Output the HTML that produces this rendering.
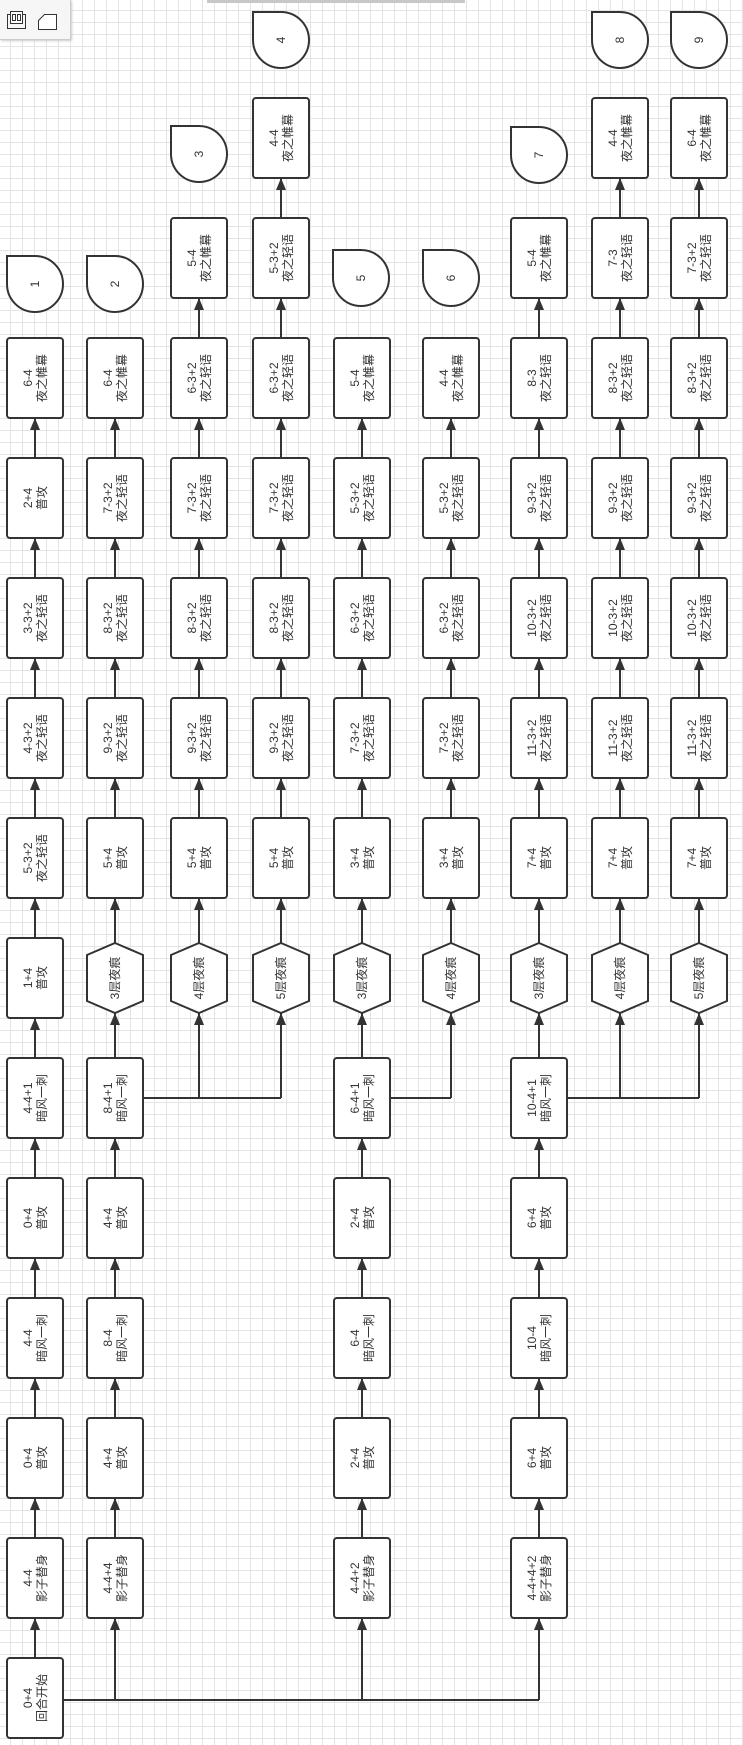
<!DOCTYPE html>
<html><head><meta charset="utf-8"><style>
html,body{margin:0;padding:0;}
body{width:743px;height:1745px;overflow:hidden;background-color:#fff;
background-image:linear-gradient(#e4e4e4 1px,transparent 1px),linear-gradient(90deg,#e4e4e4 1px,transparent 1px);
background-size:12px 12px;background-position:-2px -2px;position:relative;}
svg{position:absolute;left:0;top:0;}
text{font-family:"Liberation Sans","Noto Sans CJK SC",sans-serif;font-size:12px;fill:#333;text-anchor:middle;}
.b{fill:#fff;stroke:#333;stroke-width:2;}
.l{fill:none;stroke:#333;stroke-width:2;}
.tb{position:absolute;left:0;top:0;width:70px;height:39px;background:#f6f6f6;border-right:1px solid #ccc;border-bottom:1px solid #ccc;box-shadow:1px 1px 2px #ccc;}
.bar{position:absolute;left:207px;top:0;width:258px;height:3px;background:#c8c8c8;}
</style></head><body>
<div class="bar"></div>
<svg width="743" height="1745" viewBox="0 0 743 1745">
<path class="l" d="M35 1658V418 M115 1700V418 M199 1098V298 M281 1098V178 M362 1700V418 M451 1098V418 M539 1700V298 M620 1098V178 M699 1098V178 M63 1700H539 M143 1098H281 M390 1098H451 M567 1098H699"/>
<g class="b">
<!-- c1 -->
<rect x="7" y="1658" width="56" height="80" rx="3"/><rect x="7" y="1538" width="56" height="80" rx="3"/><rect x="7" y="1418" width="56" height="80" rx="3"/><rect x="7" y="1298" width="56" height="80" rx="3"/><rect x="7" y="1178" width="56" height="80" rx="3"/><rect x="7" y="1058" width="56" height="80" rx="3"/><rect x="7" y="938" width="56" height="80" rx="3"/><rect x="7" y="818" width="56" height="80" rx="3"/><rect x="7" y="698" width="56" height="80" rx="3"/><rect x="7" y="578" width="56" height="80" rx="3"/><rect x="7" y="458" width="56" height="80" rx="3"/><rect x="7" y="338" width="56" height="80" rx="3"/>
<!-- c2 -->
<rect x="87" y="1538" width="56" height="80" rx="3"/><rect x="87" y="1418" width="56" height="80" rx="3"/><rect x="87" y="1298" width="56" height="80" rx="3"/><rect x="87" y="1178" width="56" height="80" rx="3"/><rect x="87" y="1058" width="56" height="80" rx="3"/><rect x="87" y="818" width="56" height="80" rx="3"/><rect x="87" y="698" width="56" height="80" rx="3"/><rect x="87" y="578" width="56" height="80" rx="3"/><rect x="87" y="458" width="56" height="80" rx="3"/><rect x="87" y="338" width="56" height="80" rx="3"/>
<!-- c3 -->
<rect x="171" y="818" width="56" height="80" rx="3"/><rect x="171" y="698" width="56" height="80" rx="3"/><rect x="171" y="578" width="56" height="80" rx="3"/><rect x="171" y="458" width="56" height="80" rx="3"/><rect x="171" y="338" width="56" height="80" rx="3"/><rect x="171" y="218" width="56" height="80" rx="3"/>
<!-- c4 -->
<rect x="253" y="818" width="56" height="80" rx="3"/><rect x="253" y="698" width="56" height="80" rx="3"/><rect x="253" y="578" width="56" height="80" rx="3"/><rect x="253" y="458" width="56" height="80" rx="3"/><rect x="253" y="338" width="56" height="80" rx="3"/><rect x="253" y="218" width="56" height="80" rx="3"/><rect x="253" y="98" width="56" height="80" rx="3"/>
<!-- c5 -->
<rect x="334" y="1538" width="56" height="80" rx="3"/><rect x="334" y="1418" width="56" height="80" rx="3"/><rect x="334" y="1298" width="56" height="80" rx="3"/><rect x="334" y="1178" width="56" height="80" rx="3"/><rect x="334" y="1058" width="56" height="80" rx="3"/><rect x="334" y="818" width="56" height="80" rx="3"/><rect x="334" y="698" width="56" height="80" rx="3"/><rect x="334" y="578" width="56" height="80" rx="3"/><rect x="334" y="458" width="56" height="80" rx="3"/><rect x="334" y="338" width="56" height="80" rx="3"/>
<!-- c6 -->
<rect x="423" y="818" width="56" height="80" rx="3"/><rect x="423" y="698" width="56" height="80" rx="3"/><rect x="423" y="578" width="56" height="80" rx="3"/><rect x="423" y="458" width="56" height="80" rx="3"/><rect x="423" y="338" width="56" height="80" rx="3"/>
<!-- c7 -->
<rect x="511" y="1538" width="56" height="80" rx="3"/><rect x="511" y="1418" width="56" height="80" rx="3"/><rect x="511" y="1298" width="56" height="80" rx="3"/><rect x="511" y="1178" width="56" height="80" rx="3"/><rect x="511" y="1058" width="56" height="80" rx="3"/><rect x="511" y="818" width="56" height="80" rx="3"/><rect x="511" y="698" width="56" height="80" rx="3"/><rect x="511" y="578" width="56" height="80" rx="3"/><rect x="511" y="458" width="56" height="80" rx="3"/><rect x="511" y="338" width="56" height="80" rx="3"/><rect x="511" y="218" width="56" height="80" rx="3"/>
<!-- c8 -->
<rect x="592" y="818" width="56" height="80" rx="3"/><rect x="592" y="698" width="56" height="80" rx="3"/><rect x="592" y="578" width="56" height="80" rx="3"/><rect x="592" y="458" width="56" height="80" rx="3"/><rect x="592" y="338" width="56" height="80" rx="3"/><rect x="592" y="218" width="56" height="80" rx="3"/><rect x="592" y="98" width="56" height="80" rx="3"/>
<!-- c9 -->
<rect x="671" y="818" width="56" height="80" rx="3"/><rect x="671" y="698" width="56" height="80" rx="3"/><rect x="671" y="578" width="56" height="80" rx="3"/><rect x="671" y="458" width="56" height="80" rx="3"/><rect x="671" y="338" width="56" height="80" rx="3"/><rect x="671" y="218" width="56" height="80" rx="3"/><rect x="671" y="98" width="56" height="80" rx="3"/>
<!-- hexes -->
<polygon points="115,943 143,955 143,1001 115,1013 87,1001 87,955"/>
<polygon points="199,943 227,955 227,1001 199,1013 171,1001 171,955"/>
<polygon points="281,943 309,955 309,1001 281,1013 253,1001 253,955"/>
<polygon points="362,943 390,955 390,1001 362,1013 334,1001 334,955"/>
<polygon points="451,943 479,955 479,1001 451,1013 423,1001 423,955"/>
<polygon points="539,943 567,955 567,1001 539,1013 511,1001 511,955"/>
<polygon points="620,943 648,955 648,1001 620,1013 592,1001 592,955"/>
<polygon points="699,943 727,955 727,1001 699,1013 671,1001 671,955"/>
<!-- end shapes -->
<path d="M7 256H35A28 28 0 0 1 63 284A28 28 0 0 1 35 312A28 28 0 0 1 7 284Z"/>
<path d="M87 256H115A28 28 0 0 1 143 284A28 28 0 0 1 115 312A28 28 0 0 1 87 284Z"/>
<path d="M171 126H199A28 28 0 0 1 227 154A28 28 0 0 1 199 182A28 28 0 0 1 171 154Z"/>
<path d="M253 12H281A28 28 0 0 1 309 40A28 28 0 0 1 281 68A28 28 0 0 1 253 40Z"/>
<path d="M333 250H361A28 28 0 0 1 389 278A28 28 0 0 1 361 306A28 28 0 0 1 333 278Z"/>
<path d="M423 250H451A28 28 0 0 1 479 278A28 28 0 0 1 451 306A28 28 0 0 1 423 278Z"/>
<path d="M511 127H539A28 28 0 0 1 567 155A28 28 0 0 1 539 183A28 28 0 0 1 511 155Z"/>
<path d="M592 12H620A28 28 0 0 1 648 40A28 28 0 0 1 620 68A28 28 0 0 1 592 40Z"/>
<path d="M671 12H699A28 28 0 0 1 727 40A28 28 0 0 1 699 68A28 28 0 0 1 671 40Z"/>
</g>
<path fill="#333" d="
M35 1618l-5 12h10z M35 1498l-5 12h10z M35 1378l-5 12h10z M35 1258l-5 12h10z M35 1138l-5 12h10z M35 1018l-5 12h10z M35 898l-5 12h10z M35 778l-5 12h10z M35 658l-5 12h10z M35 538l-5 12h10z M35 418l-5 12h10z
M115 1618l-5 12h10z M115 1498l-5 12h10z M115 1378l-5 12h10z M115 1258l-5 12h10z M115 1138l-5 12h10z M115 1013l-5 12h10z M115 898l-5 12h10z M115 778l-5 12h10z M115 658l-5 12h10z M115 538l-5 12h10z M115 418l-5 12h10z
M199 1013l-5 12h10z M199 898l-5 12h10z M199 778l-5 12h10z M199 658l-5 12h10z M199 538l-5 12h10z M199 418l-5 12h10z M199 298l-5 12h10z
M281 1013l-5 12h10z M281 898l-5 12h10z M281 778l-5 12h10z M281 658l-5 12h10z M281 538l-5 12h10z M281 418l-5 12h10z M281 298l-5 12h10z M281 178l-5 12h10z
M362 1618l-5 12h10z M362 1498l-5 12h10z M362 1378l-5 12h10z M362 1258l-5 12h10z M362 1138l-5 12h10z M362 1013l-5 12h10z M362 898l-5 12h10z M362 778l-5 12h10z M362 658l-5 12h10z M362 538l-5 12h10z M362 418l-5 12h10z
M451 1013l-5 12h10z M451 898l-5 12h10z M451 778l-5 12h10z M451 658l-5 12h10z M451 538l-5 12h10z M451 418l-5 12h10z
M539 1618l-5 12h10z M539 1498l-5 12h10z M539 1378l-5 12h10z M539 1258l-5 12h10z M539 1138l-5 12h10z M539 1013l-5 12h10z M539 898l-5 12h10z M539 778l-5 12h10z M539 658l-5 12h10z M539 538l-5 12h10z M539 418l-5 12h10z M539 298l-5 12h10z
M620 1013l-5 12h10z M620 898l-5 12h10z M620 778l-5 12h10z M620 658l-5 12h10z M620 538l-5 12h10z M620 418l-5 12h10z M620 298l-5 12h10z M620 178l-5 12h10z
M699 1013l-5 12h10z M699 898l-5 12h10z M699 778l-5 12h10z M699 658l-5 12h10z M699 538l-5 12h10z M699 418l-5 12h10z M699 298l-5 12h10z M699 178l-5 12h10z"/>
<!-- c1 text -->
<text transform="translate(35,1698) rotate(-90)"><tspan x="0" y="-3">0+4</tspan><tspan x="0" y="11">回合开始</tspan></text>
<text transform="translate(35,1578) rotate(-90)"><tspan x="0" y="-3">4-4</tspan><tspan x="0" y="11">影子替身</tspan></text>
<text transform="translate(35,1458) rotate(-90)"><tspan x="0" y="-3">0+4</tspan><tspan x="0" y="11">普攻</tspan></text>
<text transform="translate(35,1338) rotate(-90)"><tspan x="0" y="-3">4-4</tspan><tspan x="0" y="11">暗风一刺</tspan></text>
<text transform="translate(35,1218) rotate(-90)"><tspan x="0" y="-3">0+4</tspan><tspan x="0" y="11">普攻</tspan></text>
<text transform="translate(35,1098) rotate(-90)"><tspan x="0" y="-3">4-4+1</tspan><tspan x="0" y="11">暗风一刺</tspan></text>
<text transform="translate(35,978) rotate(-90)"><tspan x="0" y="-3">1+4</tspan><tspan x="0" y="11">普攻</tspan></text>
<text transform="translate(35,858) rotate(-90)"><tspan x="0" y="-3">5-3+2</tspan><tspan x="0" y="11">夜之轻语</tspan></text>
<text transform="translate(35,738) rotate(-90)"><tspan x="0" y="-3">4-3+2</tspan><tspan x="0" y="11">夜之轻语</tspan></text>
<text transform="translate(35,618) rotate(-90)"><tspan x="0" y="-3">3-3+2</tspan><tspan x="0" y="11">夜之轻语</tspan></text>
<text transform="translate(35,498) rotate(-90)"><tspan x="0" y="-3">2+4</tspan><tspan x="0" y="11">普攻</tspan></text>
<text transform="translate(35,378) rotate(-90)"><tspan x="0" y="-3">6-4</tspan><tspan x="0" y="11">夜之帷幕</tspan></text>
<!-- c2 -->
<text transform="translate(115,1578) rotate(-90)"><tspan x="0" y="-3">4-4+4</tspan><tspan x="0" y="11">影子替身</tspan></text>
<text transform="translate(115,1458) rotate(-90)"><tspan x="0" y="-3">4+4</tspan><tspan x="0" y="11">普攻</tspan></text>
<text transform="translate(115,1338) rotate(-90)"><tspan x="0" y="-3">8-4</tspan><tspan x="0" y="11">暗风一刺</tspan></text>
<text transform="translate(115,1218) rotate(-90)"><tspan x="0" y="-3">4+4</tspan><tspan x="0" y="11">普攻</tspan></text>
<text transform="translate(115,1098) rotate(-90)"><tspan x="0" y="-3">8-4+1</tspan><tspan x="0" y="11">暗风一刺</tspan></text>
<text transform="translate(115,978) rotate(-90)"><tspan x="0" y="4">3层夜痕</tspan></text>
<text transform="translate(115,858) rotate(-90)"><tspan x="0" y="-3">5+4</tspan><tspan x="0" y="11">普攻</tspan></text>
<text transform="translate(115,738) rotate(-90)"><tspan x="0" y="-3">9-3+2</tspan><tspan x="0" y="11">夜之轻语</tspan></text>
<text transform="translate(115,618) rotate(-90)"><tspan x="0" y="-3">8-3+2</tspan><tspan x="0" y="11">夜之轻语</tspan></text>
<text transform="translate(115,498) rotate(-90)"><tspan x="0" y="-3">7-3+2</tspan><tspan x="0" y="11">夜之轻语</tspan></text>
<text transform="translate(115,378) rotate(-90)"><tspan x="0" y="-3">6-4</tspan><tspan x="0" y="11">夜之帷幕</tspan></text>
<!-- c3 -->
<text transform="translate(199,978) rotate(-90)"><tspan x="0" y="4">4层夜痕</tspan></text>
<text transform="translate(199,858) rotate(-90)"><tspan x="0" y="-3">5+4</tspan><tspan x="0" y="11">普攻</tspan></text>
<text transform="translate(199,738) rotate(-90)"><tspan x="0" y="-3">9-3+2</tspan><tspan x="0" y="11">夜之轻语</tspan></text>
<text transform="translate(199,618) rotate(-90)"><tspan x="0" y="-3">8-3+2</tspan><tspan x="0" y="11">夜之轻语</tspan></text>
<text transform="translate(199,498) rotate(-90)"><tspan x="0" y="-3">7-3+2</tspan><tspan x="0" y="11">夜之轻语</tspan></text>
<text transform="translate(199,378) rotate(-90)"><tspan x="0" y="-3">6-3+2</tspan><tspan x="0" y="11">夜之轻语</tspan></text>
<text transform="translate(199,258) rotate(-90)"><tspan x="0" y="-3">5-4</tspan><tspan x="0" y="11">夜之帷幕</tspan></text>
<!-- c4 -->
<text transform="translate(281,978) rotate(-90)"><tspan x="0" y="4">5层夜痕</tspan></text>
<text transform="translate(281,858) rotate(-90)"><tspan x="0" y="-3">5+4</tspan><tspan x="0" y="11">普攻</tspan></text>
<text transform="translate(281,738) rotate(-90)"><tspan x="0" y="-3">9-3+2</tspan><tspan x="0" y="11">夜之轻语</tspan></text>
<text transform="translate(281,618) rotate(-90)"><tspan x="0" y="-3">8-3+2</tspan><tspan x="0" y="11">夜之轻语</tspan></text>
<text transform="translate(281,498) rotate(-90)"><tspan x="0" y="-3">7-3+2</tspan><tspan x="0" y="11">夜之轻语</tspan></text>
<text transform="translate(281,378) rotate(-90)"><tspan x="0" y="-3">6-3+2</tspan><tspan x="0" y="11">夜之轻语</tspan></text>
<text transform="translate(281,258) rotate(-90)"><tspan x="0" y="-3">5-3+2</tspan><tspan x="0" y="11">夜之轻语</tspan></text>
<text transform="translate(281,138) rotate(-90)"><tspan x="0" y="-3">4-4</tspan><tspan x="0" y="11">夜之帷幕</tspan></text>
<!-- c5 -->
<text transform="translate(362,1578) rotate(-90)"><tspan x="0" y="-3">4-4+2</tspan><tspan x="0" y="11">影子替身</tspan></text>
<text transform="translate(362,1458) rotate(-90)"><tspan x="0" y="-3">2+4</tspan><tspan x="0" y="11">普攻</tspan></text>
<text transform="translate(362,1338) rotate(-90)"><tspan x="0" y="-3">6-4</tspan><tspan x="0" y="11">暗风一刺</tspan></text>
<text transform="translate(362,1218) rotate(-90)"><tspan x="0" y="-3">2+4</tspan><tspan x="0" y="11">普攻</tspan></text>
<text transform="translate(362,1098) rotate(-90)"><tspan x="0" y="-3">6-4+1</tspan><tspan x="0" y="11">暗风一刺</tspan></text>
<text transform="translate(362,978) rotate(-90)"><tspan x="0" y="4">3层夜痕</tspan></text>
<text transform="translate(362,858) rotate(-90)"><tspan x="0" y="-3">3+4</tspan><tspan x="0" y="11">普攻</tspan></text>
<text transform="translate(362,738) rotate(-90)"><tspan x="0" y="-3">7-3+2</tspan><tspan x="0" y="11">夜之轻语</tspan></text>
<text transform="translate(362,618) rotate(-90)"><tspan x="0" y="-3">6-3+2</tspan><tspan x="0" y="11">夜之轻语</tspan></text>
<text transform="translate(362,498) rotate(-90)"><tspan x="0" y="-3">5-3+2</tspan><tspan x="0" y="11">夜之轻语</tspan></text>
<text transform="translate(362,378) rotate(-90)"><tspan x="0" y="-3">5-4</tspan><tspan x="0" y="11">夜之帷幕</tspan></text>
<!-- c6 -->
<text transform="translate(451,978) rotate(-90)"><tspan x="0" y="4">4层夜痕</tspan></text>
<text transform="translate(451,858) rotate(-90)"><tspan x="0" y="-3">3+4</tspan><tspan x="0" y="11">普攻</tspan></text>
<text transform="translate(451,738) rotate(-90)"><tspan x="0" y="-3">7-3+2</tspan><tspan x="0" y="11">夜之轻语</tspan></text>
<text transform="translate(451,618) rotate(-90)"><tspan x="0" y="-3">6-3+2</tspan><tspan x="0" y="11">夜之轻语</tspan></text>
<text transform="translate(451,498) rotate(-90)"><tspan x="0" y="-3">5-3+2</tspan><tspan x="0" y="11">夜之轻语</tspan></text>
<text transform="translate(451,378) rotate(-90)"><tspan x="0" y="-3">4-4</tspan><tspan x="0" y="11">夜之帷幕</tspan></text>
<!-- c7 -->
<text transform="translate(539,1578) rotate(-90)"><tspan x="0" y="-3">4-4+4+2</tspan><tspan x="0" y="11">影子替身</tspan></text>
<text transform="translate(539,1458) rotate(-90)"><tspan x="0" y="-3">6+4</tspan><tspan x="0" y="11">普攻</tspan></text>
<text transform="translate(539,1338) rotate(-90)"><tspan x="0" y="-3">10-4</tspan><tspan x="0" y="11">暗风一刺</tspan></text>
<text transform="translate(539,1218) rotate(-90)"><tspan x="0" y="-3">6+4</tspan><tspan x="0" y="11">普攻</tspan></text>
<text transform="translate(539,1098) rotate(-90)"><tspan x="0" y="-3">10-4+1</tspan><tspan x="0" y="11">暗风一刺</tspan></text>
<text transform="translate(539,978) rotate(-90)"><tspan x="0" y="4">3层夜痕</tspan></text>
<text transform="translate(539,858) rotate(-90)"><tspan x="0" y="-3">7+4</tspan><tspan x="0" y="11">普攻</tspan></text>
<text transform="translate(539,738) rotate(-90)"><tspan x="0" y="-3">11-3+2</tspan><tspan x="0" y="11">夜之轻语</tspan></text>
<text transform="translate(539,618) rotate(-90)"><tspan x="0" y="-3">10-3+2</tspan><tspan x="0" y="11">夜之轻语</tspan></text>
<text transform="translate(539,498) rotate(-90)"><tspan x="0" y="-3">9-3+2</tspan><tspan x="0" y="11">夜之轻语</tspan></text>
<text transform="translate(539,378) rotate(-90)"><tspan x="0" y="-3">8-3</tspan><tspan x="0" y="11">夜之轻语</tspan></text>
<text transform="translate(539,258) rotate(-90)"><tspan x="0" y="-3">5-4</tspan><tspan x="0" y="11">夜之帷幕</tspan></text>
<!-- c8 -->
<text transform="translate(620,978) rotate(-90)"><tspan x="0" y="4">4层夜痕</tspan></text>
<text transform="translate(620,858) rotate(-90)"><tspan x="0" y="-3">7+4</tspan><tspan x="0" y="11">普攻</tspan></text>
<text transform="translate(620,738) rotate(-90)"><tspan x="0" y="-3">11-3+2</tspan><tspan x="0" y="11">夜之轻语</tspan></text>
<text transform="translate(620,618) rotate(-90)"><tspan x="0" y="-3">10-3+2</tspan><tspan x="0" y="11">夜之轻语</tspan></text>
<text transform="translate(620,498) rotate(-90)"><tspan x="0" y="-3">9-3+2</tspan><tspan x="0" y="11">夜之轻语</tspan></text>
<text transform="translate(620,378) rotate(-90)"><tspan x="0" y="-3">8-3+2</tspan><tspan x="0" y="11">夜之轻语</tspan></text>
<text transform="translate(620,258) rotate(-90)"><tspan x="0" y="-3">7-3</tspan><tspan x="0" y="11">夜之轻语</tspan></text>
<text transform="translate(620,138) rotate(-90)"><tspan x="0" y="-3">4-4</tspan><tspan x="0" y="11">夜之帷幕</tspan></text>
<!-- c9 -->
<text transform="translate(699,978) rotate(-90)"><tspan x="0" y="4">5层夜痕</tspan></text>
<text transform="translate(699,858) rotate(-90)"><tspan x="0" y="-3">7+4</tspan><tspan x="0" y="11">普攻</tspan></text>
<text transform="translate(699,738) rotate(-90)"><tspan x="0" y="-3">11-3+2</tspan><tspan x="0" y="11">夜之轻语</tspan></text>
<text transform="translate(699,618) rotate(-90)"><tspan x="0" y="-3">10-3+2</tspan><tspan x="0" y="11">夜之轻语</tspan></text>
<text transform="translate(699,498) rotate(-90)"><tspan x="0" y="-3">9-3+2</tspan><tspan x="0" y="11">夜之轻语</tspan></text>
<text transform="translate(699,378) rotate(-90)"><tspan x="0" y="-3">8-3+2</tspan><tspan x="0" y="11">夜之轻语</tspan></text>
<text transform="translate(699,258) rotate(-90)"><tspan x="0" y="-3">7-3+2</tspan><tspan x="0" y="11">夜之轻语</tspan></text>
<text transform="translate(699,138) rotate(-90)"><tspan x="0" y="-3">6-4</tspan><tspan x="0" y="11">夜之帷幕</tspan></text>
<!-- shape numbers -->
<text transform="translate(35,284) rotate(-90)" y="4">1</text>
<text transform="translate(115,284) rotate(-90)" y="4">2</text>
<text transform="translate(199,154) rotate(-90)" y="4">3</text>
<text transform="translate(281,40) rotate(-90)" y="4">4</text>
<text transform="translate(361,278) rotate(-90)" y="4">5</text>
<text transform="translate(451,278) rotate(-90)" y="4">6</text>
<text transform="translate(539,155) rotate(-90)" y="4">7</text>
<text transform="translate(620,40) rotate(-90)" y="4">8</text>
<text transform="translate(699,40) rotate(-90)" y="4">9</text>
</svg>
<div class="tb">
<svg width="70" height="39" viewBox="0 0 70 39" style="position:absolute;left:0;top:0">
<rect x="7.5" y="14.5" width="18" height="14" fill="none" stroke="#333"/>
<rect x="10.5" y="11.5" width="12" height="12" fill="#fff" stroke="#333"/>
<rect x="12.5" y="14.5" width="3" height="6" fill="none" stroke="#333"/>
<rect x="17.5" y="14.5" width="3" height="6" fill="none" stroke="#333"/>
<path d="M38.5 20.5L44.5 14.5H56.5V29.5H38.5Z" fill="#fff" stroke="#333"/>
</svg>
</div>
</body></html>
